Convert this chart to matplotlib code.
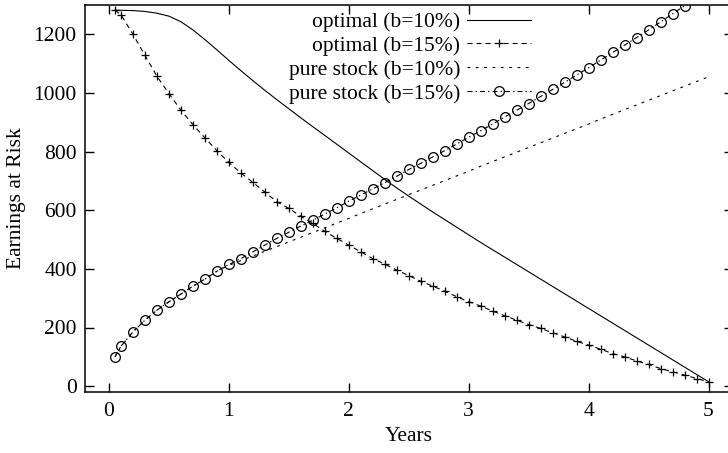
import matplotlib
matplotlib.use("Agg")
import matplotlib.pyplot as plt

plt.rcParams['font.family'] = ['Liberation Serif', 'DejaVu Serif']
plt.rcParams['font.size'] = 15.5
plt.rcParams['lines.scale_dashes'] = False

# x grid (years)
years = [0.05] + [round(0.1 * i, 1) for i in range(1, 51)]

optimal_b10 = [1282, 1282, 1281, 1278, 1272, 1262, 1243, 1215, 1182, 1147,
               1111, 1076, 1042, 1009, 977, 946, 915, 885, 855, 825,
               795, 765, 735, 705, 676, 648, 621, 594, 568, 542,
               516, 490, 465, 440, 415, 390, 365, 340, 315, 290,
               265, 240, 215, 190, 165, 140, 115, 90, 65, 40, 15]

optimal_b15 = [1282, 1267, 1200, 1128, 1057, 998, 941, 892, 847, 803,
               763, 727, 695, 662, 629, 606, 580, 555, 528, 504,
               481, 458, 435, 416, 396, 377, 358, 341, 324, 305,
               288, 273, 256, 240, 225, 210, 197, 182, 168, 153,
               140, 126, 111, 100, 86, 74, 60, 49, 38, 26, 15]

pure_b10 = [100, 136, 185, 225, 259, 288, 314, 341, 365, 392,
            412, 428, 444, 460, 476, 492, 508, 524, 540, 556,
            572, 589, 605, 621, 637, 653, 669, 685, 701, 717,
            733, 750, 766, 782, 798, 814, 830, 846, 862, 878,
            894, 911, 927, 943, 959, 975, 991, 1007, 1023, 1039, 1055]

pure_b15 = [100, 136, 185, 225, 259, 288, 314, 341, 365, 392,
            415, 435, 458, 481, 504, 525, 546, 566, 587, 608,
            631, 652, 673, 694, 716, 739, 760, 782, 803, 826,
            849, 871, 894, 918, 941, 964, 988, 1012, 1036, 1061,
            1086, 1112, 1138, 1163, 1189, 1215, 1242, 1270, 1297, 1324, 1351]

labels = ["optimal (b=10%)", "optimal (b=15%)",
          "pure stock (b=10%)", "pure stock (b=15%)"]
x_ticks = [0, 1, 2, 3, 4, 5]
y_ticks = [0, 200, 400, 600, 800, 1000, 1200]

W, H = 728, 453
fig = plt.figure(figsize=(W / 100, H / 100), dpi=100)
left, right, top, bottom = 85, 732.5, 5, 392
ax = fig.add_axes([left / W, (H - bottom) / H, (right - left) / W, (bottom - top) / H])

lw = 0.8
ax.plot(years, optimal_b10, color='black', lw=lw, linestyle='-', label=labels[0])
ax.plot(years, optimal_b15, color='black', lw=lw, linestyle=(0, (3.6, 2.9)),
        marker='+', markersize=6, markeredgewidth=0.9, label=labels[1])
ax.plot(years, pure_b10, color='black', lw=lw, linestyle=(0, (2.0, 4.0)), label=labels[2])
ax.plot(years, pure_b15, color='black', lw=lw, linestyle=(0, (3.6, 2.2, 1.0, 2.2)),
        marker='o', markersize=7, markerfacecolor='none', markeredgewidth=0.9,
        label=labels[3])

ax.set_xlim(-0.2, 5.2)
ax.set_ylim(-20, 1300)
ax.set_xticks(x_ticks)
ax.set_yticks(y_ticks)
ax.tick_params(direction='in', length=6.5, width=1.0, top=True, right=True)
ax.tick_params(axis='x', pad=7.5)
ax.tick_params(axis='y', pad=6)
for s in ax.spines.values():
    s.set_linewidth(1.1)

ax.set_xlabel("Years", labelpad=4)
ax.set_ylabel("Earnings at Risk", labelpad=5)

ax.legend(loc='upper right', bbox_to_anchor=((531 - left) / (right - left), 0.982),
          markerfirst=False, frameon=False, numpoints=1,
          handlelength=2.95, handletextpad=0.33, labelspacing=0.18,
          borderaxespad=0, borderpad=0)

fig.savefig("out.png", dpi=100)
